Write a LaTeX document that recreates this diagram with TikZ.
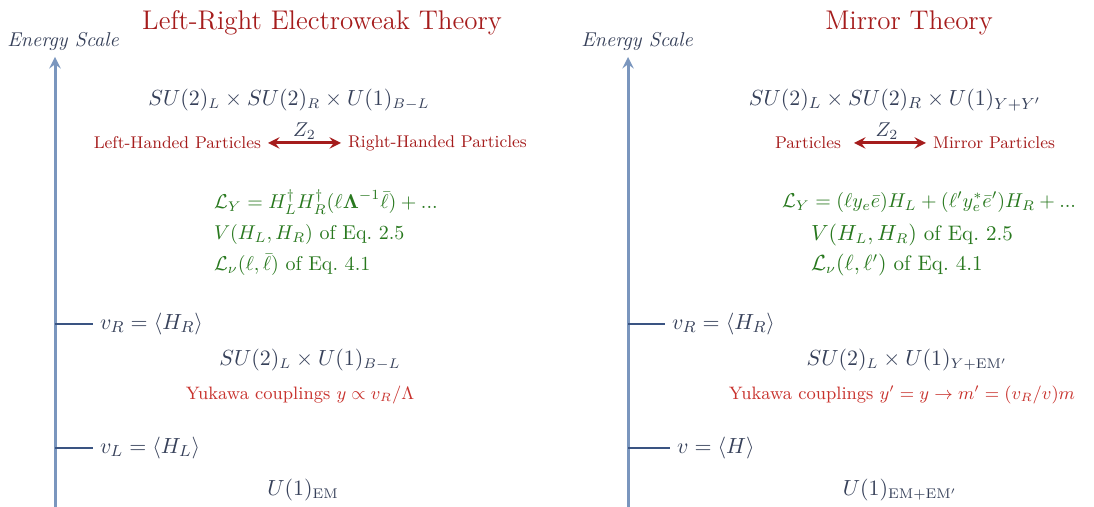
\documentclass[tikz,border=0pt]{standalone}
\usepackage{amsmath,amssymb}
\usepackage{xcolor}
\usepackage{tikz}
\usetikzlibrary{positioning}

\definecolor{titlered}{RGB}{165,28,28}
\definecolor{axisblue}{RGB}{122,150,190}
\definecolor{tickblue}{RGB}{58,84,130}
\definecolor{inkslate}{RGB}{55,65,90}
\definecolor{lagrgreen}{RGB}{40,120,30}
\definecolor{yukred}{RGB}{200,50,45}

\begin{document}
\begin{tikzpicture}[x=0.5pt, y=-0.5pt, >=stealth,
    theorytitle/.style={text=titlered, font=\fontsize{13.5}{16}\selectfont},
    scalelabel/.style={text=inkslate, font=\itshape},
    gaugegroup/.style={text=inkslate, font=\fontsize{10.7}{13}\selectfont},
    handed/.style={text=titlered, font=\fontsize{8.5}{10}\selectfont},
    lagr/.style={text=lagrgreen, anchor=west},
    yukawa/.style={text=yukred, font=\small},
    vev/.style={text=inkslate, anchor=west, font=\fontsize{10.8}{13}\selectfont},
    energyaxis/.style={->, draw=axisblue, line width=1.5pt},
    vevtick/.style={draw=tickblue, line width=1pt},
    ztwo/.style={<->, draw=titlered, line width=1.5pt}]
    \useasboundingbox (0,0) rectangle (1094,507);

    % --- Left-Right Electroweak Theory ---
    \node[theorytitle] (lrtitle) at (322,23) {Left-Right Electroweak Theory};
    \node[scalelabel] (lrscale) at (63,42) {Energy Scale};
    \coordinate (lrbottom) at (55,507);
    \coordinate (lrtop) at (55,57);
    \draw[energyaxis] (lrbottom) -- (lrtop);

    % Unbroken symmetry and the Z2 exchange
    \node[gaugegroup] (lrsym) at (289,100) {$SU(2)_L\times SU(2)_R\times U(1)_{B-L}$};
    \node[handed, anchor=east] (lrleft) at (268,143) {Left-Handed Particles};
    \node[handed, anchor=west] (lrright) at (341,143) {Right-Handed Particles};
    \draw[ztwo] (lrleft) -- (lrright) node[midway, above, inner sep=1pt, text=inkslate] {$Z_2$};

    % Lagrangian terms
    \node[lagr] (lryuk) at (207,202) {$\mathcal{L}_Y = H_L^\dagger H_R^\dagger(\ell\boldsymbol{\Lambda}^{-1}\bar\ell) + ...$};
    \node[lagr] (lrpot) at (207,235) {$V(H_L,H_R)$ of Eq.~2.5};
    \node[lagr] (lrnu) at (207,265) {$\mathcal{L}_\nu(\ell,\bar\ell)$ of Eq.~4.1};

    % First breaking step
    \coordinate (lrhigh) at (55,324);
    \node[vev] (lrvr) at (93,324) {$v_R = \langle H_R\rangle$};
    \draw[vevtick] (lrhigh) -- (lrvr);
    \node[gaugegroup] (lrmid) at (310,360) {$SU(2)_L\times U(1)_{B-L}$};
    \node[yukawa] (lrcoupl) at (300,395) {Yukawa couplings $y\propto v_R/\Lambda$};

    % Second breaking step
    \coordinate (lrlow) at (55,448);
    \node[vev] (lrvl) at (93,448) {$v_L = \langle H_L\rangle$};
    \draw[vevtick] (lrlow) -- (lrvl);
    \node[gaugegroup] (lrem) at (303,490) {$U(1)_{\mathrm{EM}}$};

    % --- Mirror Theory ---
    \node[theorytitle] (mtitle) at (909,23) {Mirror Theory};
    \node[scalelabel] (mscale) at (637,42) {Energy Scale};
    \coordinate (mbottom) at (628,507);
    \coordinate (mtop) at (628,57);
    \draw[energyaxis] (mbottom) -- (mtop);

    % Unbroken symmetry and the Z2 exchange
    \node[gaugegroup, font=\fontsize{11.2}{13}\selectfont] (msym) at (895,100) {$SU(2)_L\times SU(2)_R\times U(1)_{Y+Y'}$};
    \node[handed, anchor=east] (mleft) at (848,143) {Particles};
    \node[handed, anchor=west] (mright) at (926,143) {Mirror Particles};
    \draw[ztwo, shorten <=3pt] (mleft) -- (mright) node[midway, above, inner sep=1pt, text=inkslate] {$Z_2$};

    % Lagrangian terms
    \node[lagr, font=\fontsize{10.3}{13}\selectfont] (myuk) at (775,202) {$\mathcal{L}_Y = (\ell y_e\bar e)H_L + (\ell' y_e^*\bar e')H_R + ...$};
    \node[lagr, font=\fontsize{10.5}{13}\selectfont] (mpot) at (804,235) {$V(H_L,H_R)$ of Eq.~2.5};
    \node[lagr, font=\fontsize{10.5}{13}\selectfont] (mnu) at (804,265) {$\mathcal{L}_\nu(\ell,\ell')$ of Eq.~4.1};

    % First breaking step
    \coordinate (mhigh) at (628,324);
    \node[vev] (mvr) at (665,324) {$v_R = \langle H_R\rangle$};
    \draw[vevtick] (mhigh) -- (mvr);
    \node[gaugegroup] (mmid) at (907,360) {$SU(2)_L\times U(1)_{Y+\mathrm{EM}'}$};
    \node[yukawa] (mcoupl) at (902,395) {Yukawa couplings $y' = y\to m' = (v_R/v)m$};

    % Second breaking step
    \coordinate (mlow) at (628,448);
    \node[vev] (mv) at (670,448) {$v = \langle H\rangle$};
    \draw[vevtick] (mlow) -- (mv);
    \node[gaugegroup] (mem) at (900,490) {$U(1)_{\mathrm{EM}+\mathrm{EM}'}$};
\end{tikzpicture}
\end{document}
